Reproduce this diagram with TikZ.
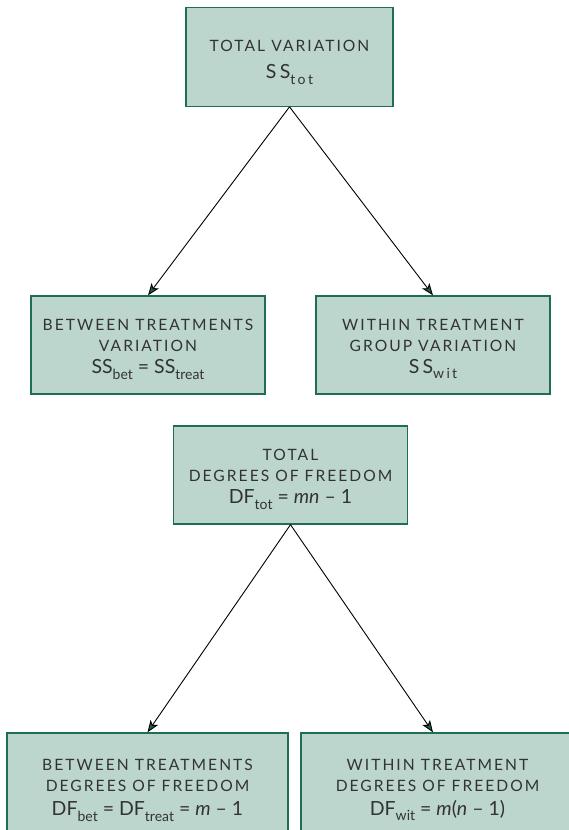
\documentclass[tikz,border=0pt]{standalone}
\usepackage{fontspec}
\setmainfont{Lato}
\newfontfamily\capsf[LetterSpace=13]{Lato}
\usetikzlibrary{arrows.meta,calc}
\definecolor{boxfill}{HTML}{BCD5CD}
\definecolor{boxline}{HTML}{1E6E54}
\definecolor{arrgreen}{HTML}{1D5E48}
\definecolor{txt}{HTML}{333333}
\newcommand\capsline[1]{{\capsf #1}}
\newcommand\fml{\fontsize{19.5}{24}\selectfont}
\newcommand\lowsub[1]{\raisebox{-0.3em}{\fontsize{14}{14}\selectfont #1}}
\newcommand\eqs{\ =\ }
\tikzset{
  box/.style={draw=boxline, line width=1.3pt, fill=boxfill, rectangle, inner sep=0pt},
  lbl/.style={inner sep=0pt, align=center, text=txt, font=\fontsize{15.6}{21}\selectfont},
  conn/.style={draw=black, line width=0.9pt,
    -{Stealth[length=12pt,width=9pt,inset=3pt,fill=arrgreen]}},
}
\begin{document}
\begin{tikzpicture}[x=1pt,y=-1pt]
\useasboundingbox (0,0) rectangle (569,830);
\clip (0,0) rectangle (569,830);
\node[box, minimum width=207pt, minimum height=99pt] (top) at (289.5,56.7) {};
\node[box, minimum width=234pt, minimum height=98pt] (ml) at (148,345) {};
\node[box, minimum width=234pt, minimum height=98pt] (mr) at (433,345) {};
\node[box, minimum width=234.5pt, minimum height=98pt] (dftot) at (290.5,475) {};
\node[box, minimum width=281pt, minimum height=100pt] (bl) at (147.5,783) {};
\node[box, minimum width=273pt, minimum height=100pt] (br) at (437.5,783) {};

\node[lbl] (top-t) at ([yshift=-6pt]top.center)
  {\capsline{TOTAL VARIATION}\\[6pt]{\fml S\,S\lowsub{t\,o\,t}}};
\node[lbl] (ml-t) at ([yshift=-4pt]ml.center)
  {\capsline{BETWEEN TREATMENTS}\\\capsline{VARIATION}\\[1pt]{\fml SS\lowsub{bet}\eqs SS\lowsub{treat}}};
\node[lbl] (mr-t) at ([yshift=-4pt]mr.center)
  {\capsline{WITHIN TREATMENT}\\\capsline{GROUP VARIATION}\\[1pt]{\fml S\,S\lowsub{w\,i\,t}}};
\node[lbl] (dftot-t) at ([yshift=-4pt]dftot.center)
  {\capsline{TOTAL}\\\capsline{DEGREES OF FREEDOM}\\[1pt]{\fml DF\lowsub{tot}\eqs\textit{mn} – 1}};
\node[lbl] (bl-t) at ([yshift=-7pt]bl.center)
  {\capsline{BETWEEN TREATMENTS}\\\capsline{DEGREES OF FREEDOM}\\[3pt]{\fml DF\lowsub{bet}\eqs DF\lowsub{treat}\eqs\textit{m} – 1}};
\node[lbl] (br-t) at ([yshift=-7pt]br.center)
  {\capsline{WITHIN TREATMENT}\\\capsline{DEGREES OF FREEDOM}\\[3pt]{\fml DF\lowsub{wit}\eqs\textit{m}(\textit{n} – 1)}};

\draw[conn] (top.south) -- (ml.north);
\draw[conn] (top.south) -- (mr.north);
\draw[conn] (dftot.south) -- (bl.north);
\draw[conn] (dftot.south) -- (mr.north |- br.north);
\end{tikzpicture}
\end{document}
